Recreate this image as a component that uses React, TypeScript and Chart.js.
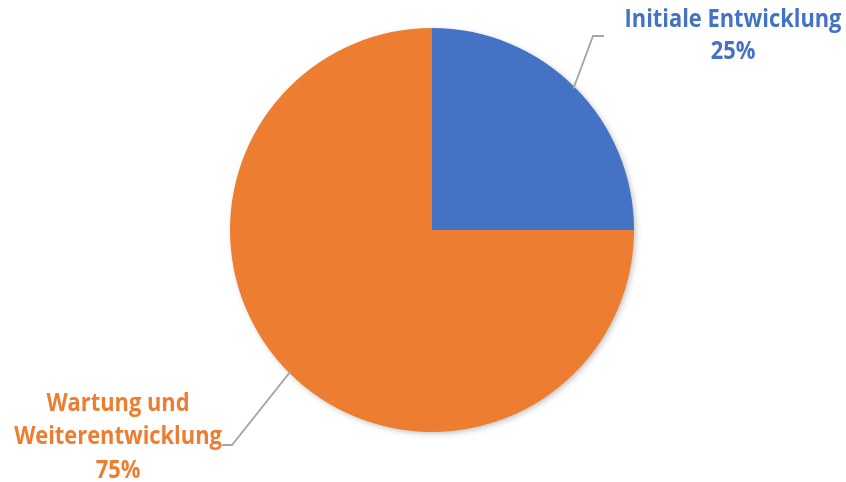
import React, { useEffect, useRef } from "react";
import { Chart, registerables } from "chart.js";

Chart.register(...registerables);

const categories = ["Initiale Entwicklung", "Wartung und Weiterentwicklung"];
const labelLines = [["Initiale Entwicklung"], ["Wartung und", "Weiterentwicklung"]];
const values = [25, 75];
const colors = ["#4472C4", "#ED7D31"];

const FONT_FAMILY = "'Open Sans', sans-serif";
const TARGET_WIDTH = 217; // width of "Initiale Entwicklung" in the reference
const TEXT_VSCALE = 1.15;
const LINE_COLOR = "#A5A5A5";

// label placement (leader elbow, leader end, text centre x, text line centres y)
const labelLayout = [
  { elbow: [593, 36], end: [604, 36], tx: 733, ty: [20, 52] },
  { elbow: [232, 445], end: [222, 445], tx: 118, ty: [404, 437, 471] },
];

const shadowPlugin = {
  id: "pieShadow",
  beforeDatasetsDraw(chart: any) {
    const meta = chart.getDatasetMeta(0);
    const arc = meta.data[0];
    if (!arc) return;
    const { x, y, outerRadius } = arc.getProps(["x", "y", "outerRadius"], true);
    const ctx = chart.ctx;
    ctx.save();
    ctx.shadowColor = "rgba(0,0,0,0.28)";
    ctx.shadowBlur = 6;
    ctx.shadowOffsetX = 2;
    ctx.shadowOffsetY = 2;
    ctx.fillStyle = "#ffffff";
    ctx.beginPath();
    ctx.arc(x, y, outerRadius - 1, 0, Math.PI * 2);
    ctx.fill();
    ctx.restore();
  },
};

const labelPlugin = {
  id: "pieLabels",
  afterDatasetsDraw(chart: any) {
    const ctx = chart.ctx;
    const meta = chart.getDatasetMeta(0);
    const data = chart.data.datasets[0].data as number[];
    const total = data.reduce((a, b) => a + b, 0);
    ctx.save();
    ctx.font = "bold 100px " + FONT_FAMILY;
    const w100 = ctx.measureText(labelLines[0][0]).width;
    ctx.restore();
    const size = (100 * TARGET_WIDTH) / w100;
    meta.data.forEach((arc: any, i: number) => {
      const { x, y, startAngle, endAngle, outerRadius } = arc.getProps(
        ["x", "y", "startAngle", "endAngle", "outerRadius"],
        true
      );
      const mid = (startAngle + endAngle) / 2;
      const sx = x + Math.cos(mid) * (outerRadius - 2);
      const sy = y + Math.sin(mid) * (outerRadius - 2);
      const lay = labelLayout[i];
      ctx.save();
      ctx.strokeStyle = LINE_COLOR;
      ctx.lineWidth = 1.8;
      ctx.beginPath();
      ctx.moveTo(sx, sy);
      ctx.lineTo(lay.elbow[0], lay.elbow[1]);
      ctx.lineTo(lay.end[0], lay.end[1]);
      ctx.stroke();
      ctx.fillStyle = colors[i];
      ctx.font = `bold ${size.toFixed(2)}px ${FONT_FAMILY}`;
      ctx.textAlign = "center";
      ctx.textBaseline = "middle";
      const lines = [...labelLines[i], Math.round((data[i] / total) * 100) + "%"];
      lines.forEach((t, k) => {
        ctx.save();
        ctx.translate(lay.tx, lay.ty[k]);
        ctx.scale(1, TEXT_VSCALE);
        ctx.fillText(t, 0, 0);
        ctx.restore();
      });
      ctx.restore();
    });
  },
};

export default function App() {
  const ref = useRef<HTMLCanvasElement>(null);
  useEffect(() => {
    document.body.style.margin = "0";
    const chart = new Chart(ref.current!, {
      type: "pie",
      data: {
        labels: categories,
        datasets: [
          {
            data: values,
            backgroundColor: colors,
            borderWidth: 0,
          },
        ],
      },
      options: {
        responsive: false,
        animation: false,
        events: [],
        layout: { padding: { top: 28, bottom: 50, left: 230, right: 212 } },
        plugins: { legend: { display: false }, tooltip: { enabled: false } },
      },
      plugins: [shadowPlugin, labelPlugin],
    });
    return () => chart.destroy();
  }, []);
  return (
    <div style={{ width: 846, height: 482, background: "#fff" }}>
      <canvas ref={ref} width={846} height={482} />
    </div>
  );
}
